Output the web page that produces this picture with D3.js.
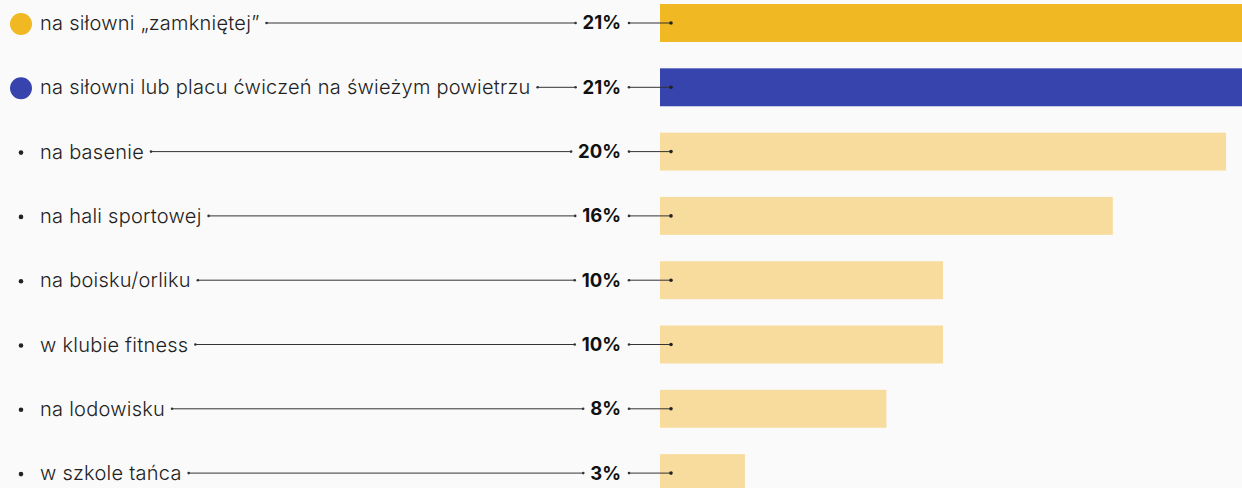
<body style="margin:0;background:#fafafa">
<svg></svg>
<script src="https://d3js.org/d3.v7.min.js"></script>
<script>
const categories = [
  "na siłowni „zamkniętej”",
  "na siłowni lub placu ćwiczeń na świeżym powietrzu",
  "na basenie",
  "na hali sportowej",
  "na boisku/orliku",
  "w klubie fitness",
  "na lodowisku",
  "w szkole tańca"
];
const values = [21, 21, 20, 16, 10, 10, 8, 3];
const markers = ["circle", "circle", "dot", "dot", "dot", "dot", "dot", "dot"];
const barColors = ["#f0b823", "#3744ad", "#f8dc9d", "#f8dc9d", "#f8dc9d", "#f8dc9d", "#f8dc9d", "#f8dc9d"];

const width = 1242, height = 488;
const font = "Inter, 'Noto Sans', sans-serif";

const svg = d3.select("svg")
  .attr("width", width)
  .attr("height", height)
  .style("display", "block")
  .style("background", "#fafafa");

const x = d3.scaleLinear().domain([0, 20]).range([660, 1226]);
const y = d3.scaleBand()
  .domain(categories)
  .range([-9.15, 505.25])
  .paddingInner(0.41)
  .paddingOuter(0.205);

const rows = categories.map((c, i) => ({ c, v: values[i], m: markers[i], col: barColors[i] }));

svg.selectAll("rect.bar")
  .data(rows)
  .join("rect")
    .attr("class", "bar")
    .attr("x", x(0))
    .attr("y", d => y(d.c))
    .attr("width", d => x(d.v) - x(0))
    .attr("height", y.bandwidth())
    .attr("fill", d => d.col);

const g = svg.selectAll("g.row")
  .data(rows)
  .join("g")
    .attr("class", "row")
    .attr("transform", d => `translate(0,${y(d.c) + y.bandwidth() / 2})`);

g.append("circle")
  .attr("cx", 21)
  .attr("cy", 1)
  .attr("r", d => d.m === "circle" ? 11 : 2.3)
  .attr("fill", d => d.m === "circle" ? d.col : "#222");

const labels = g.append("text")
  .attr("x", 40)
  .attr("dy", "0.35em")
  .attr("font-family", font)
  .attr("font-size", 20)
  .attr("letter-spacing", 0.25)
  .attr("font-weight", 300)
  .attr("fill", "#222")
  .text(d => d.c);

const pct = g.append("text")
  .attr("x", 621)
  .attr("dy", "0.35em")
  .attr("text-anchor", "end")
  .attr("font-family", font)
  .attr("font-size", 18.5)
  .attr("font-weight", 700)
  .attr("fill", "#111")
  .text(d => d.v + "%");

g.each(function(d, i) {
  const row = d3.select(this);
  const lEnd = labels.nodes()[i].getBBox();
  const pBox = pct.nodes()[i].getBBox();
  const x1 = lEnd.x + lEnd.width + 7, x2 = pBox.x - 7;
  row.append("line")
    .attr("x1", x1).attr("x2", x2)
    .attr("stroke", "#333").attr("stroke-width", 1);
  row.append("circle").attr("cx", x1).attr("r", 1.3).attr("fill", "#333");
  row.append("circle").attr("cx", x2).attr("r", 1.3).attr("fill", "#333");
  row.append("line")
    .attr("x1", 629).attr("x2", 671)
    .attr("stroke", "#333").attr("stroke-width", 1);
  row.append("circle").attr("cx", 629).attr("r", 1.3).attr("fill", "#333");
  row.append("circle").attr("cx", 671).attr("r", 1.8).attr("fill", "#222");
});
</script>
</body>
